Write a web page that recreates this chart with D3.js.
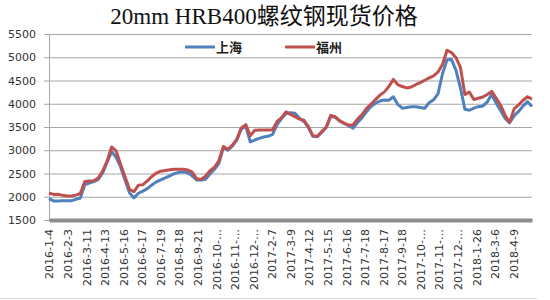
<!DOCTYPE html>
<html>
<head>
  <meta charset="utf-8">
  <title>20mm HRB400螺纹钢现货价格</title>
  <script src="https://d3js.org/d3.v7.min.js"></script>
  <style>
    body {
      margin: 0;
      background: #fff;
    }
    svg text {
      fill: #333;
    }
  </style>
</head>
<body>
  <div id="chart"></div>

  <script>
    // tick labels on the category axis (one every ~month)
    const dateLabels = [
      "2016-1-4", "2016-2-3", "2016-3-11", "2016-4-13", "2016-5-16", "2016-6-17",
      "2016-7-19", "2016-8-18", "2016-9-21", "2016-10-…", "2016-11-…", "2016-12-…",
      "2017-2-7", "2017-3-9", "2017-4-12", "2017-5-15", "2017-6-16", "2017-7-18",
      "2017-8-17", "2017-9-18", "2017-10-…", "2017-11-…", "2017-12-…", "2018-1-26",
      "2018-3-6", "2018-4-9"
    ];

    const seriesNames = ["上海", "福州"];

    const shanghai = [
      1960, 1910, 1910, 1915, 1915, 1915, 1945, 1970, 2260, 2295,
      2325, 2370, 2515, 2740, 2970, 2850, 2640, 2360, 2085, 1975,
      2075, 2120, 2175, 2255, 2320, 2365, 2405, 2450, 2495, 2525,
      2535, 2515, 2450, 2360, 2360, 2375, 2490, 2590, 2720, 3060,
      3000, 3090, 3220, 3460, 3520, 3180, 3220, 3255, 3285, 3300,
      3340, 3550, 3680, 3790, 3805, 3795, 3690, 3620, 3490, 3300,
      3290, 3390, 3490, 3730, 3710, 3625, 3575, 3530, 3475, 3595,
      3700, 3830, 3940, 4010, 4060, 4080, 4075, 4150, 3985, 3905,
      3920, 3935, 3935, 3920, 3905, 4020, 4085, 4220, 4650, 4945,
      4950, 4720, 4340, 3880, 3860, 3905, 3937, 3950, 4040, 4200,
      4010, 3850, 3685, 3590, 3740, 3835, 3950, 4045, 3940
    ];

    const fuzhou = [
      2080, 2050, 2055, 2030, 2015, 2015, 2035, 2070, 2330, 2340,
      2345, 2400, 2550, 2770, 3070, 2985, 2700, 2430, 2160, 2110,
      2250, 2260, 2340, 2435, 2510, 2550, 2565, 2580, 2590, 2590,
      2590, 2578, 2530, 2390, 2370, 2445, 2560, 2635, 2780, 3080,
      3020, 3110, 3240, 3480, 3550, 3310, 3430, 3435, 3435, 3435,
      3440, 3620, 3700, 3825, 3770, 3720, 3670, 3645, 3510, 3310,
      3300, 3400, 3500, 3750, 3720, 3635, 3585, 3540, 3550, 3670,
      3765, 3900, 3990, 4090, 4185, 4255, 4370, 4525, 4410, 4370,
      4340, 4360, 4410, 4455, 4505, 4555, 4600, 4685, 4850, 5150,
      5100, 4990, 4780, 4200, 4250, 4090, 4117, 4145, 4200, 4265,
      4115, 3965, 3750, 3600, 3890, 3975, 4075, 4150, 4100
    ];

    const yTicks = [1500, 2000, 2500, 3000, 3500, 4000, 4500, 5000, 5500];

    const axisEnd = 26; // axis runs a little past the last label
    const step = axisEnd / (shanghai.length - 1);
    const colors = ["#4f81bd", "#c0504d"];

    const width = 550;
    const height = 300;
    const plotLeft = 49, plotRight = 532, plotTop = 34, plotBottom = 220;

    const svg = d3.select("#chart")
      .append("svg")
      .attr("width", width)
      .attr("height", height);

    const x = d3.scaleLinear()
      .domain([0, axisEnd])
      .range([plotLeft, plotRight]);

    const y = d3.scaleLinear()
      .domain([1500, 5500])
      .range([plotBottom, plotTop]);

    // gridlines
    svg.append("g")
      .attr("transform", "translate(" + plotLeft + ",0)")
      .call(d3.axisLeft(y).tickValues(yTicks).tickSize(-(plotRight - plotLeft)).tickFormat(""))
      .call(g => g.select(".domain").remove())
      .selectAll("line")
      .attr("stroke", "#a6a6a6");

    // y axis
    const yAxis = svg.append("g")
      .attr("transform", "translate(" + plotLeft + ",0)")
      .call(d3.axisLeft(y).tickValues(yTicks).tickFormat(d3.format("d")).tickSize(5).tickPadding(8));
    yAxis.select(".domain").attr("stroke", "#a6a6a6");
    yAxis.selectAll(".tick line").attr("stroke", "#a6a6a6");
    yAxis.selectAll("text")
      .attr("font-family", "DejaVu Sans, sans-serif")
      .attr("font-size", 11)
      .style("fill", "#333");

    // x axis (thick grey bar) with rotated labels
    const xAxis = svg.append("g")
      .attr("transform", "translate(0," + plotBottom + ")")
      .call(d3.axisBottom(x).tickValues(d3.range(dateLabels.length))
        .tickFormat(i => dateLabels[i]).tickSize(0));
    xAxis.select(".domain")
      .attr("stroke", "#8c8c8c")
      .attr("stroke-width", 4);
    xAxis.selectAll("text")
      .attr("font-family", "DejaVu Sans, sans-serif")
      .attr("font-size", 11)
      .attr("text-anchor", "end")
      .attr("transform", "rotate(-90)")
      .attr("x", -9)
      .attr("y", 0)
      .attr("dy", "0.35em")
      .style("fill", "#333");

    // series lines
    const line = d3.line()
      .x((d, i) => x(i * step))
      .y(d => y(d));

    [shanghai, fuzhou].forEach(function(values, k) {
      svg.append("path")
        .datum(values)
        .attr("fill", "none")
        .attr("stroke", colors[k])
        .attr("stroke-width", 3)
        .attr("stroke-linejoin", "round")
        .attr("d", line);
    });

    // legend
    const legendX = [185, 285];
    seriesNames.forEach(function(name, k) {
      svg.append("line")
        .attr("x1", legendX[k]).attr("x2", legendX[k] + 30)
        .attr("y1", 47).attr("y2", 47)
        .attr("stroke", colors[k])
        .attr("stroke-width", 3);
      svg.append("text")
        .attr("x", legendX[k] + 31)
        .attr("y", 52)
        .attr("font-family", "Noto Sans CJK SC, sans-serif")
        .attr("font-size", 13)
        .attr("font-weight", "bold")
        .style("fill", "#222")
        .text(name);
    });

    // title
    svg.append("text")
      .attr("x", 264)
      .attr("y", 24)
      .attr("text-anchor", "middle")
      .attr("font-family", "Liberation Serif, Noto Sans CJK SC, serif")
      .attr("font-size", 23)
      .style("fill", "#111")
      .text("20mm HRB400螺纹钢现货价格");

    // outer frame bottom edge
    svg.append("line")
      .attr("x1", 0).attr("x2", 537)
      .attr("y1", 298.5).attr("y2", 298.5)
      .attr("stroke", "#d9d9d9");
  </script>
</body>
</html>
